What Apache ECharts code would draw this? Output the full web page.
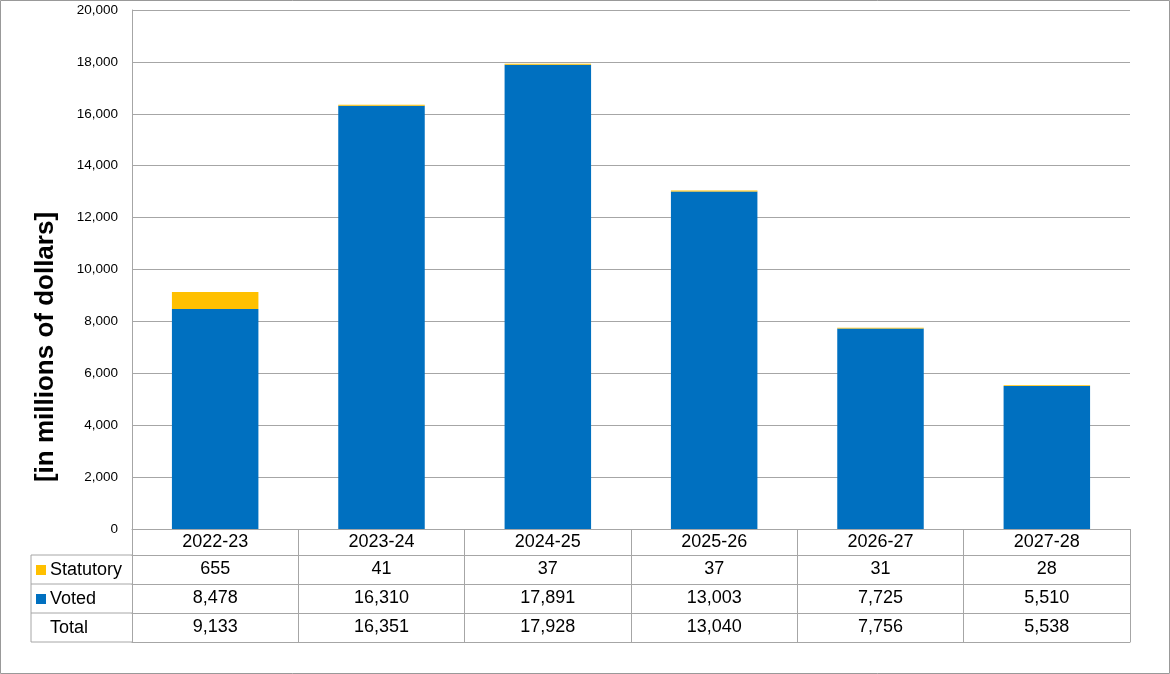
<!DOCTYPE html>
<html>
<head>
<meta charset="utf-8">
<script src="https://cdn.jsdelivr.net/npm/echarts@6/dist/echarts.min.js"></script>
<style>
  html, body { margin: 0; padding: 0; background: #fff; }
  #main { width: 1170px; height: 674px; }
</style>
</head>
<body>
<div id="main"></div>
<script>
var years = ['2022-23', '2023-24', '2024-25', '2025-26', '2026-27', '2027-28'];
var statutory = [655, 41, 37, 37, 31, 28];
var voted = [8478, 16310, 17891, 13003, 7725, 5510];
var totals = [9133, 16351, 17928, 13040, 7756, 5538];
var rowNames = ['Statutory', 'Voted', 'Total'];

var lineColor = '#a6a6a6';
var fmt = function (v) { return v.toLocaleString('en-US'); };

// one extra x axis per table row, sitting below the chart
function tableRow(values, offset) {
    return {
        type: 'category',
        gridIndex: 0,
        position: 'bottom',
        offset: offset,
        data: values.map(fmt),
        axisLine: { show: true, lineStyle: { color: lineColor, width: 1 } },
        axisTick: { show: false },
        axisLabel: {
            margin: 14.5,
            verticalAlign: 'middle',
            fontSize: 18,
            color: '#000',
            fontFamily: 'Liberation Sans, Arial'
        }
    };
}

var rowTop = [555, 584, 613];
var graphics = [
    { type: 'rect', shape: { x: 0.5, y: 0.5, width: 1169, height: 673 },
      style: { fill: 'none', stroke: '#999', lineWidth: 1 } },
    { type: 'line', shape: { x1: 31, y1: 555, x2: 31, y2: 642 },
      style: { stroke: lineColor, lineWidth: 1 } },
    { type: 'text', x: 46, y: 347, rotation: Math.PI / 2,
      style: { text: '[in millions of dollars]', font: 'bold 26px "Liberation Sans", Arial',
               fill: '#000', align: 'center', verticalAlign: 'middle' } }
];
[555, 584, 613, 642].forEach(function (y) {
    graphics.push({ type: 'line', shape: { x1: 31, y1: y, x2: 132, y2: y },
                    style: { stroke: lineColor, lineWidth: 1 } });
});
var keyColors = ['#FFC000', '#0070C0', null];
rowNames.forEach(function (name, i) {
    if (keyColors[i]) {
        graphics.push({ type: 'rect', shape: { x: 36, y: rowTop[i] + 10, width: 10, height: 10 },
                        style: { fill: keyColors[i] } });
    }
    graphics.push({ type: 'text', x: 50, y: rowTop[i] + 15,
                    style: { text: name, font: '18px "Liberation Sans", Arial', fill: '#000',
                             verticalAlign: 'middle' } });
});

var option = {
    animation: false,
    grid: { left: 132, right: 40, top: 10, bottom: 145 },
    xAxis: [
        {
            type: 'category',
            data: years,
            axisLine: { show: true, lineStyle: { color: lineColor, width: 1 } },
            axisTick: { show: true, length: 113, lineStyle: { color: lineColor, width: 1 } },
            axisLabel: {
                margin: 13.5,
                verticalAlign: 'middle',
                fontSize: 18,
                color: '#000',
                fontFamily: 'Liberation Sans, Arial'
            }
        },
        tableRow(statutory, 26),
        tableRow(voted, 55),
        tableRow(totals, 84),
        {
            type: 'category',
            gridIndex: 0,
            position: 'bottom',
            offset: 113,
            data: years.map(function () { return ''; }),
            axisLine: { show: true, lineStyle: { color: lineColor, width: 1 } },
            axisTick: { show: false },
            axisLabel: { show: false }
        }
    ],
    yAxis: {
        type: 'value',
        min: 0,
        max: 20000,
        interval: 2000,
        axisLine: { show: true, lineStyle: { color: lineColor, width: 1 } },
        axisTick: { show: false },
        splitLine: { lineStyle: { color: lineColor, width: 1 } },
        axisLabel: {
            margin: 14,
            fontSize: 13.5,
            color: '#000',
            fontFamily: 'Liberation Sans, Arial',
            formatter: function (v) { return fmt(v); }
        }
    },
    series: [
        {
            name: 'Voted',
            type: 'bar',
            stack: 'total',
            barWidth: '52%',
            data: voted,
            itemStyle: { color: '#0070C0' }
        },
        {
            name: 'Statutory',
            type: 'bar',
            stack: 'total',
            barWidth: '52%',
            data: statutory,
            itemStyle: { color: '#FFC000' }
        }
    ],
    graphic: graphics
};

var myChart = echarts.init(document.getElementById('main'));
myChart.setOption(option);
</script>
</body>
</html>
